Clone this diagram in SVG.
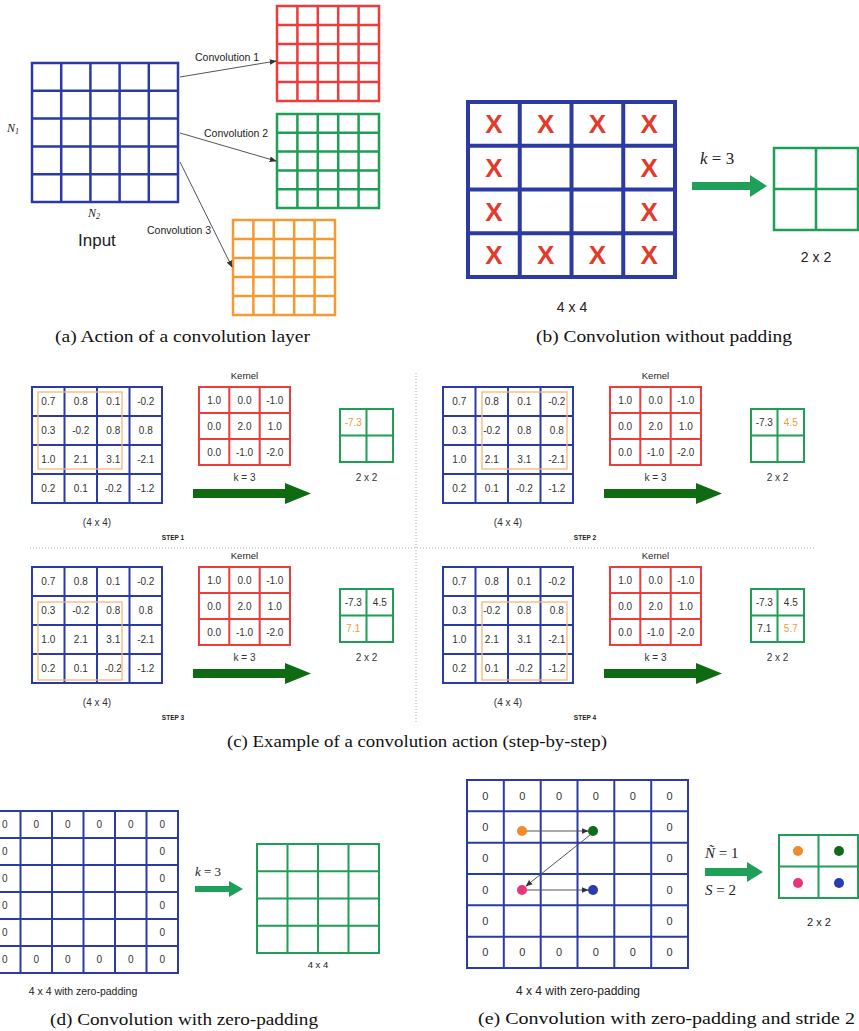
<svg xmlns="http://www.w3.org/2000/svg" xmlns:xlink="http://www.w3.org/1999/xlink" width="859" height="1031" viewBox="0 0 859 1031">
<style>
.bg{fill:#fff}
.blue{fill:none;stroke:#2c3aa5;stroke-width:2.5}
.blueT{fill:none;stroke:#2c3aa5;stroke-width:4}
.blueS{fill:none;stroke:#2c3aa5;stroke-width:2}
.red{fill:none;stroke:#ec3c3c;stroke-width:2.5}
.redS{fill:none;stroke:#ec3c3c;stroke-width:2}
.grn{fill:none;stroke:#1f9e55;stroke-width:2.5}
.grnS{fill:none;stroke:#1f9e55;stroke-width:2}
.org{fill:none;stroke:#f59a30;stroke-width:2.5}
.hl{fill:none;stroke:#f2b877;stroke-width:1.3}
.conn{fill:none;stroke:#555;stroke-width:1}
.sans{font-family:"Liberation Sans",Arial,sans-serif;fill:#222}
.math{font-family:"Liberation Serif","Times New Roman",serif;font-style:italic;fill:#222}
.cap{font-family:"Liberation Serif","Times New Roman",serif;font-size:16px;fill:#111}
.v{font-family:"Liberation Sans",Arial,sans-serif;font-size:10px;fill:#333;text-anchor:middle}
.vo{font-family:"Liberation Sans",Arial,sans-serif;font-size:10px;fill:#f09a3a;text-anchor:middle}
.z{font-family:"Liberation Sans",Arial,sans-serif;fill:#333;text-anchor:middle}
.x{font-family:"Liberation Sans",Arial,sans-serif;font-weight:bold;font-size:26px;fill:#e23a2c;text-anchor:middle}
.mid{text-anchor:middle}
.dot{stroke:#aaa;stroke-width:1;stroke-dasharray:1 2;fill:none}
.dk{fill:#0f6b12}
.lg{fill:#1fa058}
</style>
<defs>
<marker id="ah" viewBox="0 0 10 10" refX="9" refY="5" markerWidth="7" markerHeight="7" orient="auto-start-reverse"><path d="M0 1L10 5L0 9Z" fill="#333"/></marker>
<g id="inmat">
<path class="blueS" d="M32 387H162V503H32Z M64.5 387V503 M97 387V503 M129.5 387V503 M32 416H162 M32 445H162 M32 474H162"/>
<text class="v" x="48.3" y="405">0.7</text><text class="v" x="80.8" y="405">0.8</text><text class="v" x="113.3" y="405">0.1</text><text class="v" x="145.8" y="405">-0.2</text>
<text class="v" x="48.3" y="434">0.3</text><text class="v" x="80.8" y="434">-0.2</text><text class="v" x="113.3" y="434">0.8</text><text class="v" x="145.8" y="434">0.8</text>
<text class="v" x="48.3" y="463">1.0</text><text class="v" x="80.8" y="463">2.1</text><text class="v" x="113.3" y="463">3.1</text><text class="v" x="145.8" y="463">-2.1</text>
<text class="v" x="48.3" y="492">0.2</text><text class="v" x="80.8" y="492">0.1</text><text class="v" x="113.3" y="492">-0.2</text><text class="v" x="145.8" y="492">-1.2</text>
<text class="v" x="97" y="526">(4 x 4)</text>
<text class="sans mid" x="244.5" y="379" font-size="9.5">Kernel</text>
<path class="redS" d="M199 387H290V465H199Z M229.3 387V465 M259.7 387V465 M199 413H290 M199 439H290"/>
<text class="v" x="214.2" y="403.5">1.0</text><text class="v" x="244.5" y="403.5">0.0</text><text class="v" x="274.8" y="403.5">-1.0</text>
<text class="v" x="214.2" y="429.5">0.0</text><text class="v" x="244.5" y="429.5">2.0</text><text class="v" x="274.8" y="429.5">1.0</text>
<text class="v" x="214.2" y="455.5">0.0</text><text class="v" x="244.5" y="455.5">-1.0</text><text class="v" x="274.8" y="455.5">-2.0</text>
<text class="v" x="244.5" y="481">k = 3</text>
<path class="dk" d="M193 489H285V483L311 493.5L285 504V498H193Z"/>
<path class="grnS" d="M340 409H393V462H340Z M366.5 409V462 M340 435.5H393"/>
<text class="v" x="366.5" y="481">2 x 2</text>
</g>
</defs>
<rect class="bg" x="0" y="0" width="859" height="1031"/>

<!-- Panel (a) -->
<g id="a-input">
<path class="blue" d="M32 63H178V202H32Z M61.2 63V202 M90.4 63V202 M119.6 63V202 M148.8 63V202 M32 90.8H178 M32 118.6H178 M32 146.4H178 M32 174.2H178"/>
<text class="math" x="7" y="132" font-size="12">N<tspan font-size="8" dy="2">1</tspan></text>
<text class="math" x="88" y="217" font-size="12">N<tspan font-size="8" dy="2">2</tspan></text>
<text class="sans" x="78" y="246" font-size="17">Input</text>
</g>
<g id="a-conv1"><path class="red" d="M277 6H379V101H277Z M297.4 6V101 M317.8 6V101 M338.2 6V101 M358.6 6V101 M277 25H379 M277 44H379 M277 63H379 M277 82H379"/></g>
<g id="a-conv2"><path class="grn" d="M277 114H379V208H277Z M297.4 114V208 M317.8 114V208 M338.2 114V208 M358.6 114V208 M277 132.8H379 M277 151.6H379 M277 170.4H379 M277 189.2H379"/></g>
<g id="a-conv3"><path class="org" d="M233 220H335V315H233Z M253.4 220V315 M273.8 220V315 M294.2 220V315 M314.6 220V315 M233 239H335 M233 258H335 M233 277H335 M233 296H335"/></g>
<g id="a-connectors">
<line class="conn" x1="180" y1="77" x2="276" y2="61" marker-end="url(#ah)"/>
<line class="conn" x1="180" y1="133" x2="276" y2="161" marker-end="url(#ah)"/>
<line class="conn" x1="180" y1="162" x2="232" y2="267" marker-end="url(#ah)"/>
<text class="sans" x="195" y="61" font-size="10.5">Convolution 1</text>
<text class="sans" x="204" y="137" font-size="10.5">Convolution 2</text>
<text class="sans" x="147" y="234" font-size="10.5">Convolution 3</text>
</g>
<text class="cap" x="55" y="342" textLength="255" lengthAdjust="spacingAndGlyphs">(a) Action of a convolution layer</text>

<!-- Panel (b) -->
<g id="b-input">
<path class="blueT" d="M468 102H675V277H468Z M519.75 102V277 M571.5 102V277 M623.25 102V277 M468 145.75H675 M468 189.5H675 M468 233.25H675"/>
<text class="x" x="494" y="133">X</text><text class="x" x="545.6" y="133">X</text><text class="x" x="597.4" y="133">X</text><text class="x" x="649.1" y="133">X</text>
<text class="x" x="494" y="177">X</text><text class="x" x="649.1" y="177">X</text>
<text class="x" x="494" y="220.5">X</text><text class="x" x="649.1" y="220.5">X</text>
<text class="x" x="494" y="264">X</text><text class="x" x="545.6" y="264">X</text><text class="x" x="597.4" y="264">X</text><text class="x" x="649.1" y="264">X</text>
<text class="sans mid" x="572" y="312" font-size="14">4 x 4</text>
</g>
<g id="b-arrow">
<path class="lg" d="M692 182H750V175L767 186L750 197V190H692Z"/>
<text class="math" x="700" y="164" font-size="17">k<tspan font-style="normal"> = 3</tspan></text>
</g>
<g id="b-output">
<path class="grn" stroke-width="3" d="M774 148H858V230H774Z M816 148V230 M774 189H858"/>
<text class="sans mid" x="816" y="262" font-size="14">2 x 2</text>
</g>
<text class="cap" x="536" y="342" textLength="256" lengthAdjust="spacingAndGlyphs">(b) Convolution without padding</text>

<!-- Panel (c) -->
<g id="c-dividers">
<line class="dot" x1="30" y1="548" x2="815" y2="548"/>
<line class="dot" x1="416" y1="373" x2="416" y2="722"/>
</g>
<g id="c-step1">
<use xlink:href="#inmat"/>
<rect class="hl" x="38" y="392" width="84" height="77"/>
<text class="vo" x="353.3" y="425.5">-7.3</text>
<text class="sans mid" x="173" y="540" font-size="6.5" font-weight="bold">STEP 1</text>
</g>
<g id="c-step2" transform="translate(411,0)">
<use xlink:href="#inmat"/>
<rect class="hl" x="71" y="392" width="85" height="77"/>
<text class="v" x="353.3" y="425.5">-7.3</text><text class="vo" x="379.8" y="425.5">4.5</text>
<text class="sans mid" x="174" y="540" font-size="6.5" font-weight="bold">STEP 2</text>
</g>
<g id="c-step3" transform="translate(0,180)">
<use xlink:href="#inmat"/>
<rect class="hl" x="38" y="422" width="84" height="78"/>
<text class="v" x="353.3" y="425.5">-7.3</text><text class="v" x="379.8" y="425.5">4.5</text>
<text class="vo" x="353.3" y="452">7.1</text>
<text class="sans mid" x="173" y="540" font-size="6.5" font-weight="bold">STEP 3</text>
</g>
<g id="c-step4" transform="translate(411,180)">
<use xlink:href="#inmat"/>
<rect class="hl" x="71" y="422" width="85" height="78"/>
<text class="v" x="353.3" y="425.5">-7.3</text><text class="v" x="379.8" y="425.5">4.5</text>
<text class="v" x="353.3" y="452">7.1</text><text class="vo" x="379.8" y="452">5.7</text>
<text class="sans mid" x="174" y="540" font-size="6.5" font-weight="bold">STEP 4</text>
</g>
<text class="cap" x="227" y="747" textLength="380" lengthAdjust="spacingAndGlyphs">(c) Example of a convolution action (step-by-step)</text>

<!-- Panel (d) -->
<g id="d-input">
<path class="blueS" d="M-11 811H178V973H-11Z M20.5 811V973 M52 811V973 M83.5 811V973 M115 811V973 M146.5 811V973 M-11 838H178 M-11 865H178 M-11 892H178 M-11 919H178 M-11 946H178"/>
<g class="z" font-size="10">
<text x="4.8" y="828">0</text><text x="36.3" y="828">0</text><text x="67.8" y="828">0</text><text x="99.3" y="828">0</text><text x="130.8" y="828">0</text><text x="162.3" y="828">0</text>
<text x="4.8" y="855">0</text><text x="162.3" y="855">0</text>
<text x="4.8" y="882">0</text><text x="162.3" y="882">0</text>
<text x="4.8" y="909">0</text><text x="162.3" y="909">0</text>
<text x="4.8" y="936">0</text><text x="162.3" y="936">0</text>
<text x="4.8" y="963">0</text><text x="36.3" y="963">0</text><text x="67.8" y="963">0</text><text x="99.3" y="963">0</text><text x="130.8" y="963">0</text><text x="162.3" y="963">0</text>
</g>
<text class="sans mid" x="83" y="995" font-size="10.5">4 x 4 with zero-padding</text>
</g>
<g id="d-arrow">
<path class="lg" d="M195 886H229V881L243 889L229 897V892H195Z"/>
<text class="math" x="195" y="876" font-size="13">k<tspan font-style="normal"> = 3</tspan></text>
</g>
<g id="d-output">
<path class="grnS" d="M257 844H379V953H257Z M287.5 844V953 M318 844V953 M348.5 844V953 M257 871.25H379 M257 898.5H379 M257 925.75H379"/>
<text class="sans mid" x="318" y="968" font-size="9.5">4 x 4</text>
</g>
<text class="cap" x="50" y="1025" textLength="268" lengthAdjust="spacingAndGlyphs">(d) Convolution with zero-padding</text>

<!-- Panel (e) -->
<g id="e-input">
<path class="blueS" d="M467 780H688V968H467Z M503.8 780V968 M540.7 780V968 M577.5 780V968 M614.3 780V968 M651.2 780V968 M467 811.3H688 M467 842.7H688 M467 874H688 M467 905.3H688 M467 936.7H688"/>
<g class="z" font-size="11">
<text x="485.4" y="800">0</text><text x="522.3" y="800">0</text><text x="559.1" y="800">0</text><text x="595.9" y="800">0</text><text x="632.8" y="800">0</text><text x="669.6" y="800">0</text>
<text x="485.4" y="831">0</text><text x="669.6" y="831">0</text>
<text x="485.4" y="862">0</text><text x="669.6" y="862">0</text>
<text x="485.4" y="893.5">0</text><text x="669.6" y="893.5">0</text>
<text x="485.4" y="925">0</text><text x="669.6" y="925">0</text>
<text x="485.4" y="956">0</text><text x="522.3" y="956">0</text><text x="559.1" y="956">0</text><text x="595.9" y="956">0</text><text x="632.8" y="956">0</text><text x="669.6" y="956">0</text>
</g>
<text class="sans mid" x="578" y="995" font-size="12">4 x 4 with zero-padding</text>
</g>
<g id="e-connectors">
<line class="conn" x1="526" y1="831" x2="588" y2="831" marker-end="url(#ah)"/>
<line class="conn" x1="590" y1="835" x2="526" y2="886" marker-end="url(#ah)"/>
<line class="conn" x1="526" y1="890" x2="588" y2="890" marker-end="url(#ah)"/>
</g>
<g id="e-dots">
<circle cx="522" cy="831" r="5" fill="#f28a2a"/>
<circle cx="593" cy="831" r="5" fill="#0f6b1a"/>
<circle cx="522" cy="890" r="5" fill="#e8357a"/>
<circle cx="593" cy="890" r="5" fill="#2a3ab0"/>
</g>
<g id="e-arrow">
<path class="lg" d="M705 868H747V862L763 872L747 882V876H705Z"/>
<text class="math" x="705" y="858" font-size="15">Ñ<tspan font-style="normal"> = 1</tspan></text>
<text class="math" x="705" y="895" font-size="15">S<tspan font-style="normal"> = 2</tspan></text>
</g>
<g id="e-output">
<path class="grnS" d="M779 835H858V898H779Z M818.5 835V898 M779 866.5H858"/>
<circle cx="798" cy="851" r="5" fill="#f28a2a"/>
<circle cx="839" cy="851" r="5" fill="#0f6b1a"/>
<circle cx="798" cy="883" r="5" fill="#e8357a"/>
<circle cx="839" cy="883" r="5" fill="#2a3ab0"/>
<text class="sans mid" x="819" y="926" font-size="11">2 x 2</text>
</g>
<text class="cap" x="478" y="1024" textLength="377" lengthAdjust="spacingAndGlyphs">(e) Convolution with zero-padding and stride 2</text>
</svg>
